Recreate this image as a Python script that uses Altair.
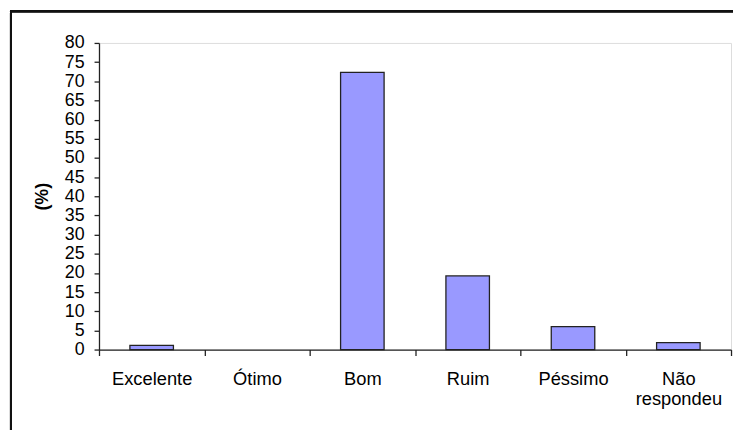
import altair as alt
import pandas as pd

categories = ["Excelente", "Ótimo", "Bom", "Ruim", "Péssimo", "Não respondeu"]
values = [1.1, 0.0, 72.3, 19.2, 6.0, 1.8]
y_ticks = list(range(0, 85, 5))

df = pd.DataFrame({"cat": categories, "pct": values})

W, H = 639, 310

bars = alt.Chart(df).mark_bar(
    size=44, color="#9999FF", stroke="#222222", clip=False
).encode(
    x=alt.X(
        "cat:N",
        sort=categories,
        scale=alt.Scale(paddingInner=0, paddingOuter=0),
        axis=alt.Axis(
            title=None,
            labelAngle=0,
            labelFont="Liberation Sans",
            labelFontSize=18.5,
            labelColor="#000000",
            labelPadding=14,
            labelLineHeight=20.5,
            labelExpr="split(datum.label, ' ')",
            tickBand="extent",
            tickSize=6,
            tickColor="#222222",
            tickWidth=1.3,
            domainColor="#222222",
            domainWidth=1.3,
            grid=False,
        ),
    ),
    y=alt.Y(
        "pct:Q",
        scale=alt.Scale(domain=[0, 80], nice=False),
        axis=alt.Axis(
            title="(%)",
            values=y_ticks,
            labelFont="Liberation Sans",
            labelFontSize=18,
            labelColor="#000000",
            labelPadding=10,
            tickSize=5,
            tickColor="#222222",
            tickWidth=1.3,
            domainColor="#222222",
            domainWidth=1.3,
            grid=False,
            titleFont="Liberation Sans",
            titleFontSize=18,
            titleFontWeight="bold",
            titleColor="#000000",
            titleX=-52,
            titleY=H / 2,
            titleBaseline="alphabetic",
            titleAngle=270,
        ),
    ),
    strokeWidth=alt.condition("datum.pct > 0", alt.value(1.3), alt.value(0)),
)

frame = alt.Chart(df).mark_rect(
    fill=None, stroke="#111111", strokeWidth=2, clip=False
).encode(
    x=alt.value(-89), x2=alt.value(800), y=alt.value(-32), y2=alt.value(600)
)

chart = alt.layer(frame, bars).properties(
    width=W,
    height=H,
    autosize=alt.AutoSizeParams(type="none"),
    padding={"left": 92, "top": 33, "right": 2, "bottom": 79},
).configure_view(stroke=None).configure(background="white")

chart.save("out.html", embed_options={"renderer": "svg", "actions": False})
